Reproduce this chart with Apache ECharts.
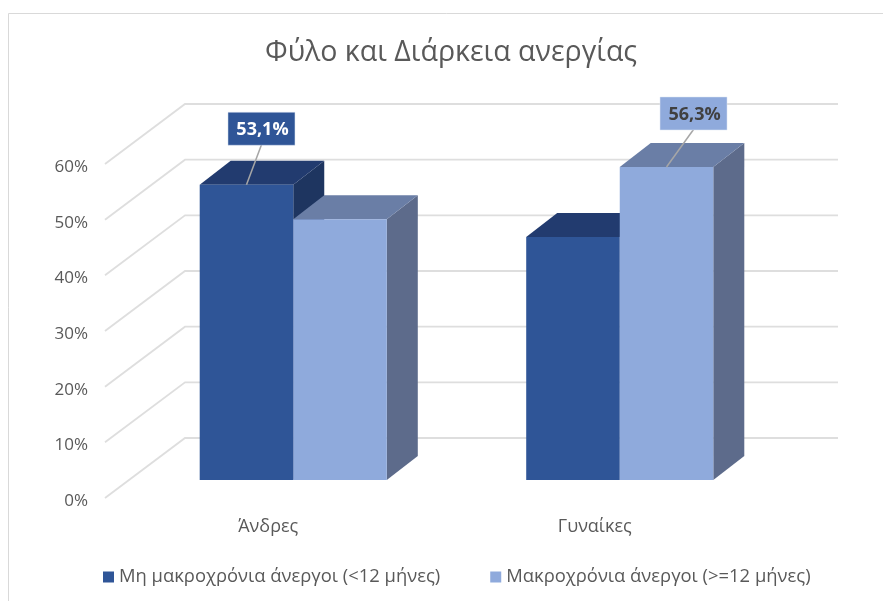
<!doctype html>
<html>
<head>
<meta charset="utf-8">
<style>
  html, body { margin: 0; padding: 0; background: #fff; }
  #chart { width: 883px; height: 601px; }
</style>
</head>
<body>
<div id="chart"></div>
<script src="https://cdn.jsdelivr.net/npm/echarts@6/dist/echarts.min.js"></script>
<script>
  var titleText = 'Φύλο και Διάρκεια ανεργίας';
  var categories = ['Άνδρες', 'Γυναίκες'];
  var shortTerm = [53.1, 43.7];
  var longTerm = [46.9, 56.3];
  var shortTermName = 'Μη μακροχρόνια άνεργοι (<12 μήνες)';
  var longTermName = 'Μακροχρόνια άνεργοι (>=12 μήνες)';
  var yTicks = [0, 10, 20, 30, 40, 50, 60];
  // which bars carry a label box: [category index, box offset x, box offset y]
  var shortTermLabels = [[0, 15, -56]];
  var longTermLabels = [[1, 27, -53.5]];

  var FONT = '"Open Sans", "Noto Sans", sans-serif';
  var TEXT = '#595959';
  var depthX = 31, depthY = 24;   // bar depth
  var wallX = 80, wallY = 60;     // floor depth
  var backRight = 838;
  var labelDrop = 3;              // tick labels sit a little under the line ends

  function poly(points, color) {
    return { type: 'polygon', shape: { points: points }, style: { fill: color } };
  }

  function barSeries(name, values, side, colors, labels, textColor) {
    return {
      name: name,
      type: 'custom',
      xAxisIndex: 0,
      yAxisIndex: 0,
      itemStyle: { color: colors.front },
      clip: false,
      data: values.map(function (v, i) { return [i, v]; }),
      encode: { x: 0, y: 1 },
      renderItem: function (params, api) {
        var top = api.coord([api.value(0), api.value(1)]);
        var base = api.coord([api.value(0), 0]);
        var w = api.size([1, 0])[0] * 0.2865;
        var x0 = side < 0 ? top[0] - w : top[0];
        var x1 = x0 + w;
        var kids = [
          poly([[x1, top[1]], [x1 + depthX, top[1] - depthY], [x1 + depthX, base[1] - depthY], [x1, base[1]]], colors.side),
          poly([[x0, top[1]], [x0 + depthX, top[1] - depthY], [x1 + depthX, top[1] - depthY], [x1, top[1]]], colors.top),
          poly([[x0, top[1]], [x1, top[1]], [x1, base[1]], [x0, base[1]]], colors.front)
        ];
        labels.forEach(function (l) {
          if (l[0] !== params.dataIndex) return;
          var cx = (x0 + x1) / 2;
          var bx = cx + l[1], by = top[1] + l[2];
          kids.push({
            type: 'line',
            shape: { x1: bx, y1: by + 16, x2: cx, y2: top[1] },
            style: { stroke: '#a6a6a6', lineWidth: 1.5 }
          });
          kids.push({
            type: 'rect',
            shape: { x: bx - 33.5, y: by - 16.5, width: 67, height: 33 },
            style: { fill: colors.front, stroke: '#dfe6f3', lineWidth: 0.5 }
          });
          kids.push({
            type: 'text',
            style: {
              x: bx + 1, y: by + 1.5, text: api.value(1).toFixed(1).replace('.', ',') + '%',
              align: 'center', verticalAlign: 'middle',
              fill: textColor, font: 'bold 18px ' + FONT
            }
          });
        });
        return { type: 'group', children: kids };
      }
    };
  }

  var chart = echarts.init(document.getElementById('chart'));
  chart.setOption({
    animation: false,
    backgroundColor: '#fff',
    title: {
      text: titleText,
      left: 446,
      top: 33,
      textAlign: 'center',
      textStyle: { fontFamily: FONT, fontSize: 28.5, fontWeight: 'normal', color: TEXT }
    },
    graphic: [{
      type: 'rect',
      silent: true,
      shape: { x: 8.5, y: 13.5, width: 900, height: 620 },
      style: { fill: 'none', stroke: '#d9d9d9', lineWidth: 1 }
    }],
    legend: {
      data: [shortTermName, longTermName],
      left: 98,
      top: 563,
      icon: 'rect',
      itemWidth: 11,
      itemHeight: 11,
      itemGap: 50,
      textStyle: { fontFamily: FONT, fontSize: 18.4, color: TEXT }
    },
    grid: [
      // plane of the bar fronts
      { left: 130, top: 146.4, width: 653, height: 333.6 },
      // front edge of the floor, carries the axis labels
      { left: 105, top: 164 + labelDrop, width: 653, height: 334 }
    ],
    xAxis: [
      { gridIndex: 0, type: 'category', data: categories, show: false },
      {
        gridIndex: 1, type: 'category', data: categories,
        axisLine: { show: false }, axisTick: { show: false },
        axisLabel: { margin: 17, color: TEXT, fontFamily: FONT, fontSize: 18 }
      }
    ],
    yAxis: [
      { gridIndex: 0, type: 'value', min: 0, max: 60, interval: 10, show: false },
      {
        gridIndex: 1, type: 'value', min: 0, max: 60, interval: 10,
        axisLine: { show: false }, axisTick: { show: false }, splitLine: { show: false },
        axisLabel: { margin: 17, color: TEXT, fontFamily: FONT, fontSize: 17, formatter: '{value}%' }
      }
    ],
    series: [
      {
        type: 'custom',
        xAxisIndex: 1,
        yAxisIndex: 1,
        silent: true,
        clip: false,
        data: yTicks.map(function (v) { return [0, v]; }),
        encode: { x: 0, y: 1 },
        renderItem: function (params, api) {
          var y = api.coord([0, api.value(1)])[1] - labelDrop;
          var x = params.coordSys.x;
          return {
            type: 'polyline',
            shape: { points: [[x, y], [x + wallX, y - wallY], [backRight, y - wallY]] },
            style: { fill: 'none', stroke: '#dedede', lineWidth: 1.8 }
          };
        }
      },
      barSeries(shortTermName, shortTerm, -1,
        { front: '#2f5597', top: '#223b6f', side: '#1e3560' }, shortTermLabels, '#ffffff'),
      barSeries(longTermName, longTerm, 1,
        { front: '#8faadc', top: '#6a7ea6', side: '#5d6b8b' }, longTermLabels, '#404040')
    ]
  });
</script>
</body>
</html>
